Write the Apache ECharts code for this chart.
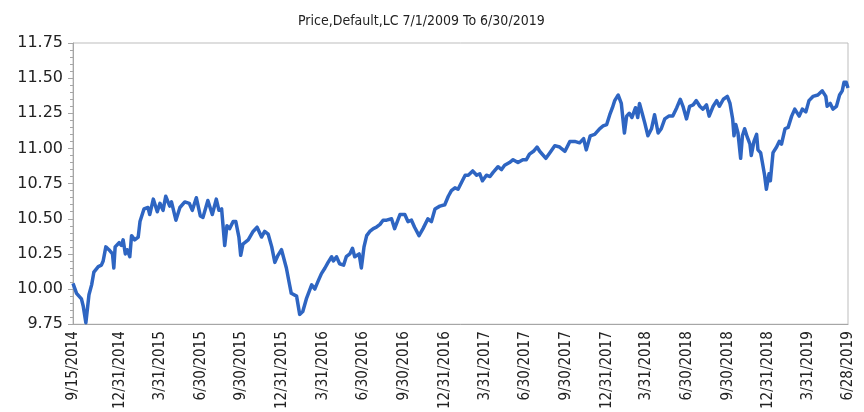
<!DOCTYPE html>
<html>
<head>
<meta charset="utf-8">
<script src="https://cdn.jsdelivr.net/npm/echarts@6/dist/echarts.min.js"></script>
<style>
  html, body { margin: 0; padding: 0; background: #fff; }
  #chart { width: 864px; height: 412px; }
</style>
</head>
<body>
<div id="chart"></div>
<script>
const dates = [
  "2014-09-15","2014-09-23","2014-10-04","2014-10-08","2014-10-14","2014-10-21","2014-10-27","2014-11-01","2014-11-11","2014-11-18",
  "2014-11-22","2014-11-28","2014-12-05","2014-12-13","2014-12-16","2014-12-19","2014-12-28","2015-01-02","2015-01-06","2015-01-11",
  "2015-01-15","2015-01-21","2015-01-25","2015-02-01","2015-02-09","2015-02-13","2015-02-22","2015-03-03","2015-03-07","2015-03-15",
  "2015-03-24","2015-03-30","2015-04-06","2015-04-12","2015-04-21","2015-04-25","2015-05-05","2015-05-14","2015-05-25","2015-06-04",
  "2015-06-11","2015-06-20","2015-06-29","2015-07-05","2015-07-16","2015-07-26","2015-08-04","2015-08-10","2015-08-16","2015-08-23",
  "2015-08-28","2015-09-03","2015-09-11","2015-09-17","2015-09-24","2015-09-28","2015-10-03","2015-10-15","2015-10-26","2015-11-04",
  "2015-11-14","2015-11-21","2015-11-29","2015-12-07","2015-12-14","2015-12-21","2015-12-29","2016-01-09","2016-01-15","2016-01-20",
  "2016-02-01","2016-02-08","2016-02-15","2016-02-23","2016-03-06","2016-03-13","2016-03-21","2016-03-28","2016-04-05","2016-04-12",
  "2016-04-20","2016-04-24","2016-05-01","2016-05-08","2016-05-17","2016-05-23","2016-05-31","2016-06-06","2016-06-11","2016-06-21",
  "2016-06-26","2016-07-02","2016-07-08","2016-07-15","2016-07-23","2016-07-30","2016-08-07","2016-08-14","2016-08-22","2016-09-02",
  "2016-09-09","2016-09-21","2016-10-02","2016-10-09","2016-10-17","2016-10-24","2016-11-03","2016-11-12","2016-11-23","2016-12-01",
  "2016-12-09","2016-12-20","2016-12-31","2017-01-08","2017-01-15","2017-01-23","2017-01-30","2017-02-07","2017-02-15","2017-02-22",
  "2017-03-04","2017-03-13","2017-03-20","2017-03-26","2017-04-04","2017-04-12","2017-04-19","2017-04-30","2017-05-08","2017-05-15",
  "2017-05-26","2017-06-03","2017-06-14","2017-06-25","2017-07-03","2017-07-10","2017-07-19","2017-07-27","2017-08-02","2017-08-16",
  "2017-08-25","2017-09-05","2017-09-16","2017-09-28","2017-10-09","2017-10-20","2017-10-31","2017-11-09","2017-11-15","2017-11-24",
  "2017-12-04","2017-12-15","2017-12-23","2017-12-31","2018-01-07","2018-01-13","2018-01-18","2018-01-26","2018-02-02","2018-02-09",
  "2018-02-14","2018-02-20","2018-02-26","2018-03-06","2018-03-11","2018-03-15","2018-03-21","2018-03-27","2018-04-03","2018-04-11",
  "2018-04-18","2018-04-26","2018-05-03","2018-05-11","2018-05-20","2018-05-29","2018-06-07","2018-06-15","2018-06-21","2018-06-29",
  "2018-07-06","2018-07-14","2018-07-21","2018-07-29","2018-08-05","2018-08-13","2018-08-19","2018-08-28","2018-09-05","2018-09-11",
  "2018-09-20","2018-09-29","2018-10-05","2018-10-11","2018-10-14","2018-10-18","2018-10-23","2018-10-29","2018-11-02","2018-11-07",
  "2018-11-13","2018-11-19","2018-11-22","2018-11-28","2018-12-04","2018-12-07","2018-12-13","2018-12-17","2018-12-22","2018-12-26",
  "2019-01-01","2019-01-04","2019-01-10","2019-01-18","2019-01-24","2019-01-29","2019-02-06","2019-02-13","2019-02-21","2019-02-28",
  "2019-03-10","2019-03-17","2019-03-25","2019-04-01","2019-04-10","2019-04-21","2019-05-01","2019-05-09","2019-05-12","2019-05-19",
  "2019-05-25","2019-06-02","2019-06-09","2019-06-15","2019-06-19","2019-06-24","2019-06-28"
];

const prices = [
  10.04, 9.97, 9.93, 9.88, 9.76, 9.96, 10.03, 10.12, 10.16, 10.17,
  10.20, 10.30, 10.28, 10.25, 10.15, 10.30, 10.33, 10.31, 10.35, 10.25,
  10.28, 10.23, 10.38, 10.35, 10.37, 10.48, 10.57, 10.58, 10.53, 10.64,
  10.55, 10.61, 10.56, 10.66, 10.59, 10.62, 10.49, 10.58, 10.62, 10.61,
  10.56, 10.65, 10.52, 10.51, 10.63, 10.53, 10.64, 10.56, 10.57, 10.31,
  10.45, 10.43, 10.48, 10.48, 10.37, 10.24, 10.32, 10.35, 10.41, 10.44,
  10.37, 10.41, 10.39, 10.30, 10.19, 10.24, 10.28, 10.15, 10.05, 9.97,
  9.95, 9.82, 9.84, 9.93, 10.03, 10.00, 10.06, 10.11, 10.15, 10.19,
  10.23, 10.20, 10.23, 10.18, 10.17, 10.23, 10.25, 10.29, 10.23, 10.25,
  10.15, 10.30, 10.38, 10.41, 10.43, 10.44, 10.46, 10.49, 10.49, 10.50,
  10.43, 10.53, 10.53, 10.48, 10.49, 10.44, 10.38, 10.43, 10.50, 10.48,
  10.57, 10.59, 10.60, 10.66, 10.70, 10.72, 10.71, 10.76, 10.81, 10.81,
  10.84, 10.81, 10.82, 10.77, 10.81, 10.80, 10.83, 10.87, 10.85, 10.88,
  10.90, 10.92, 10.90, 10.92, 10.92, 10.96, 10.98, 11.01, 10.98, 10.93,
  10.97, 11.02, 11.01, 10.98, 11.05, 11.05, 11.04, 11.07, 10.99, 11.09,
  11.10, 11.14, 11.16, 11.17, 11.24, 11.29, 11.34, 11.38, 11.32, 11.11,
  11.23, 11.25, 11.22, 11.29, 11.22, 11.32, 11.25, 11.18, 11.09, 11.14,
  11.24, 11.11, 11.14, 11.21, 11.23, 11.23, 11.29, 11.35, 11.30, 11.21,
  11.30, 11.31, 11.34, 11.30, 11.28, 11.31, 11.23, 11.30, 11.34, 11.30,
  11.35, 11.37, 11.32, 11.21, 11.09, 11.17, 11.11, 10.93, 11.09, 11.14,
  11.08, 11.03, 10.95, 11.05, 11.10, 10.99, 10.97, 10.90, 10.81, 10.71,
  10.82, 10.77, 10.97, 11.01, 11.05, 11.03, 11.14, 11.15, 11.23, 11.28,
  11.23, 11.28, 11.26, 11.34, 11.37, 11.38, 11.41, 11.37, 11.30, 11.32,
  11.28, 11.30, 11.38, 11.41, 11.47, 11.47, 11.43
];

const tickDates = [
  "2014-09-15","2014-12-31","2015-03-31","2015-06-30","2015-09-30","2015-12-31","2016-03-31",
  "2016-06-30","2016-09-30","2016-12-31","2017-03-31","2017-06-30","2017-09-30","2017-12-31",
  "2018-03-31","2018-06-30","2018-09-30","2018-12-31","2019-03-31","2019-06-28"
];

const titleText = "Price,Default,LC 7/1/2009 To 6/30/2019";

// dates -> ms, parsed as local so the label formatter round-trips
const toTime = (s) => {
  const [y, m, d] = s.split("-").map(Number);
  return new Date(y, m - 1, d).getTime();
};
const fmtDate = (v) => {
  const d = new Date(v);
  return (d.getMonth() + 1) + "/" + d.getDate() + "/" + d.getFullYear();
};

const seriesData = dates.map((d, i) => [toTime(d), prices[i]]);
const tickValues = tickDates.map(toTime);

const chart = echarts.init(document.getElementById("chart"), null, { renderer: "canvas" });
chart.setOption({
  animation: false,
  backgroundColor: "#ffffff",
  title: {
    text: titleText,
    left: 293,
    top: 9,
    textStyle: { fontFamily: "DejaVu Sans Condensed", fontSize: 14, fontWeight: "normal", color: "#222" }
  },
  grid: {
    left: 73, right: 16, top: 43, bottom: 86,
    show: true, borderColor: "#bdbdbd", borderWidth: 1
  },
  xAxis: {
    type: "value",
    min: tickValues[0],
    max: tickValues[tickValues.length - 1],
    axisLine: { show: true, lineStyle: { color: "#a6a6a6" } },
    axisTick: { show: false },
    splitLine: { show: false },
    axisLabel: {
      customValues: tickValues,
      rotate: 90,
      margin: 7,
      formatter: (v) => fmtDate(v),
      color: "#222",
      fontFamily: "DejaVu Sans Condensed",
      fontSize: 15
    }
  },
  yAxis: {
    type: "value",
    min: 9.75,
    max: 11.75,
    interval: 0.25,
    axisLine: { show: true, lineStyle: { color: "#a6a6a6" } },
    axisTick: { show: true, length: 5, lineStyle: { color: "#a6a6a6" } },
    minorTick: { show: true, splitNumber: 5, length: 3, lineStyle: { color: "#a6a6a6" } },
    splitLine: { show: false },
    axisLabel: {
      formatter: (v) => v.toFixed(2),
      margin: 10,
      color: "#222",
      fontFamily: "DejaVu Sans",
      fontSize: 16
    }
  },
  series: [
    {
      type: "line",
      data: seriesData,
      showSymbol: false,
      smooth: false,
      lineStyle: { width: 3.5, color: "#2e65c2", join: "round" },
      itemStyle: { color: "#2e65c2" }
    }
  ]
});
</script>
</body>
</html>
